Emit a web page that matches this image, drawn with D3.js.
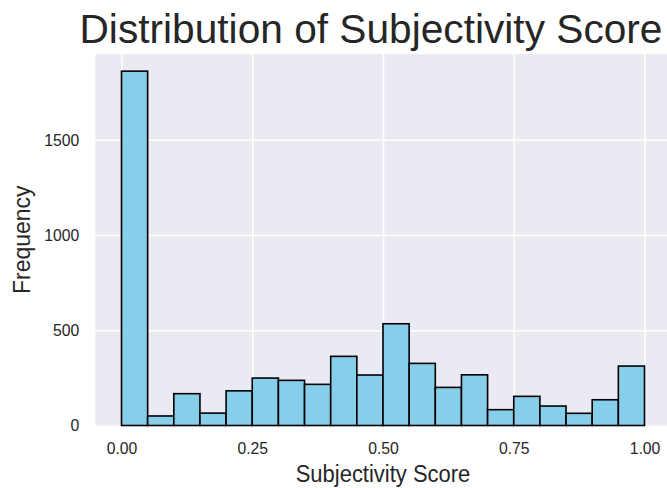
<!DOCTYPE html>
<html>
<head>
<meta charset="utf-8">
<script src="https://cdn.jsdelivr.net/npm/d3@7"></script>
<style>
  html, body { margin: 0; padding: 0; background: #ffffff; }
  svg { display: block; }
  text { font-family: "Liberation Sans", Arial, Helvetica, sans-serif; fill: #262626; }
</style>
</head>
<body>
<svg id="chart" width="667" height="488"></svg>
<script>
// ---- data ----
const binStarts = [0.00, 0.05, 0.10, 0.15, 0.20, 0.25, 0.30, 0.35, 0.40, 0.45,
                   0.50, 0.55, 0.60, 0.65, 0.70, 0.75, 0.80, 0.85, 0.90, 0.95];
const binWidth = 0.05;
const frequencies = [1860, 50, 167, 65, 182, 249, 237, 216, 363, 265,
                     534, 326, 200, 266, 83, 153, 102, 64, 135, 312];
const xTicks = [0, 0.25, 0.5, 0.75, 1.0];
const yTicks = [0, 500, 1000, 1500];
const titleText = "Distribution of Subjectivity Score";
const xLabel = "Subjectivity Score";
const yLabel = "Frequency";

// ---- layout ----
const plot = { left: 95.35, right: 670.65, top: 54, bottom: 425.5 };
const hSquash = 0.955; // reference glyphs are slightly narrower than normal
const svg = d3.select("#chart");

const x = d3.scaleLinear().domain([-0.05, 1.05]).range([plot.left, plot.right]);
const y = d3.scaleLinear().domain([0, 1950]).range([plot.bottom, plot.top]);

function squash(sel) {
  sel.each(function () {
    const w = this.getComputedTextLength();
    d3.select(this).attr("textLength", w * hSquash).attr("lengthAdjust", "spacingAndGlyphs");
  });
}

// background
svg.append("rect")
  .attr("x", plot.left).attr("y", plot.top)
  .attr("width", plot.right - plot.left).attr("height", plot.bottom - plot.top)
  .attr("fill", "#EAEAF2");

// grid
const gx = svg.append("g")
  .attr("transform", `translate(0,${plot.bottom})`)
  .call(d3.axisBottom(x).tickValues(xTicks).tickSize(-(plot.bottom - plot.top)).tickFormat(""));
gx.select(".domain").remove();
gx.selectAll("line").attr("stroke", "#ffffff").attr("stroke-width", 1.5);

const gy = svg.append("g")
  .attr("transform", `translate(${plot.left},0)`)
  .call(d3.axisLeft(y).tickValues(yTicks.filter(d => d > 0)).tickSize(-(plot.right - plot.left)).tickFormat(""));
gy.select(".domain").remove();
gy.selectAll("line").attr("stroke", "#ffffff").attr("stroke-width", 1.5);

// bars
svg.append("g").selectAll("rect")
  .data(frequencies)
  .join("rect")
  .attr("x", (d, i) => x(binStarts[i]))
  .attr("width", (d, i) => x(binStarts[i] + binWidth) - x(binStarts[i]))
  .attr("y", d => y(d))
  .attr("height", d => y(0) - y(d))
  .attr("fill", "#87CEEB")
  .attr("stroke", "#000000")
  .attr("stroke-width", 1.6);

// tick labels
const ax = svg.append("g")
  .attr("transform", `translate(0,${plot.bottom})`)
  .call(d3.axisBottom(x).tickValues(xTicks).tickSize(0).tickPadding(16.8).tickFormat(d3.format(".2f")));
ax.select(".domain").remove();
ax.selectAll("text").style("font-size", "16.5px").attr("fill", "#262626")
  .style("font-family", "'Liberation Sans', Arial, sans-serif").call(squash);

const ay = svg.append("g")
  .attr("transform", `translate(${plot.left},0)`)
  .call(d3.axisLeft(y).tickValues(yTicks).tickSize(0).tickPadding(16).tickFormat(d3.format("d")));
ay.select(".domain").remove();
ay.selectAll("text").style("font-size", "16.5px").attr("fill", "#262626")
  .style("font-family", "'Liberation Sans', Arial, sans-serif").call(squash);

// title
svg.append("text")
  .attr("x", 79.5).attr("y", 42.7)
  .attr("text-anchor", "start")
  .style("font-size", "40.8px")
  .text(titleText)
  .each(function () {
    const w = this.getComputedTextLength();
    if (w > 583) d3.select(this).attr("textLength", 583).attr("lengthAdjust", "spacingAndGlyphs");
  });

// x label
svg.append("text")
  .attr("x", (plot.left + plot.right) / 2).attr("y", 482)
  .attr("text-anchor", "middle")
  .style("font-size", "23px")
  .text(xLabel)
  .call(squash);

// y label
svg.append("text")
  .attr("transform", `translate(29.5,${(plot.top + plot.bottom) / 2}) rotate(-90)`)
  .attr("text-anchor", "middle")
  .style("font-size", "23px")
  .text(yLabel);
</script>
</body>
</html>
